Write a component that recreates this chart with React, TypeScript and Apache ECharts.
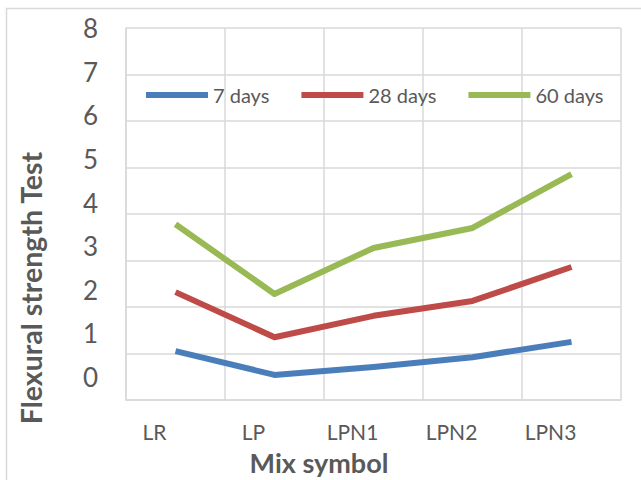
import React, { useEffect, useRef } from "react";
import * as echarts from "echarts";

const categories = ["LR", "LP", "LPN1", "LPN2", "LPN3"];
const yTicks = [0, 1, 2, 3, 4, 5, 6, 7, 8];
const days7 = [1.05, 0.54, 0.71, 0.92, 1.25];
const days28 = [2.32, 1.35, 1.81, 2.13, 2.86];
const days60 = [3.78, 2.28, 3.27, 3.7, 4.86];
const seriesNames = ["7 days", "28 days", "60 days"];
const colors = ["#4a7ebb", "#be4b48", "#98b954"];

export default function App() {
  const ref = useRef<HTMLDivElement>(null);
  useEffect(() => {
    if (!ref.current) return;
    const chart = echarts.init(ref.current, null, { renderer: "svg" });
    const font = "Lato, 'Open Sans', sans-serif";
    const grey = "#d9d9d9";
    const txt = "#595959";
    const mk = (name: string, data: number[], color: string) => ({
      name,
      type: "line",
      data,
      xAxisIndex: 0,
      yAxisIndex: 0,
      showSymbol: false,
      symbol: "none",
      lineStyle: { width: 6, color, cap: "butt", join: "round" },
      itemStyle: { color },
    });
    chart.setOption({
      animation: false,
      backgroundColor: "#fff",
      textStyle: { fontFamily: font },
      grid: [
        { left: 126, top: 28, width: 495, height: 372 },
        { left: 105, top: 28, width: 495, height: 349 },
      ],
      legend: {
        data: seriesNames,
        left: 146,
        top: 85,
        padding: 0,
        icon: "rect",
        itemWidth: 62,
        itemHeight: 6,
        itemGap: 32,
        textStyle: { color: txt, fontSize: 20, fontFamily: font },
      },
      xAxis: [
        {
          type: "category",
          gridIndex: 0,
          data: categories,
          boundaryGap: true,
          axisLine: { show: true, lineStyle: { color: grey, width: 1.5 } },
          axisTick: { show: false },
          axisLabel: { show: false },
          splitLine: { show: true, lineStyle: { color: grey, width: 1.5 } },
        },
        {
          type: "category",
          gridIndex: 1,
          data: categories,
          boundaryGap: true,
          axisLine: { show: false },
          axisTick: { show: false },
          axisLabel: { show: true, color: txt, fontSize: 21, fontFamily: font, margin: 44 },
          splitLine: { show: false },
        },
      ],
      yAxis: [
        {
          type: "value",
          gridIndex: 0,
          min: 0,
          max: 8,
          interval: 1,
          axisLine: { show: true, lineStyle: { color: grey, width: 1.5 } },
          axisTick: { show: false },
          axisLabel: { show: false },
          splitLine: { show: true, lineStyle: { color: grey, width: 1.5 } },
        },
        {
          type: "value",
          gridIndex: 1,
          min: yTicks[0],
          max: yTicks[yTicks.length - 1],
          interval: 1,
          axisLine: { show: false },
          axisTick: { show: false },
          axisLabel: { show: true, color: txt, fontSize: 26, fontFamily: font, margin: 7 },
          splitLine: { show: false },
        },
      ],
      graphic: [
        {
          type: "rect",
          shape: { x: 6.5, y: 8.5, width: 640, height: 480 },
          style: { fill: "none", stroke: grey, lineWidth: 1.5 },
          silent: true,
        },
        {
          type: "text",
          x: 31,
          y: 288,
          rotation: Math.PI / 2,
          style: {
            text: "Flexural strength Test",
            fontSize: 28.5,
            fontWeight: "bold",
            fontFamily: font,
            fill: txt,
            align: "center",
            verticalAlign: "middle",
          },
        },
        {
          type: "text",
          x: 319,
          y: 462,
          style: {
            text: "Mix symbol",
            fontSize: 27,
            fontWeight: "bold",
            fontFamily: font,
            fill: txt,
            align: "center",
            verticalAlign: "middle",
          },
        },
      ],
      series: [
        mk(seriesNames[0], days7, colors[0]),
        mk(seriesNames[1], days28, colors[1]),
        mk(seriesNames[2], days60, colors[2]),
      ],
    });
    return () => chart.dispose();
  }, []);
  return (
    <div
      ref={ref}
      style={{ position: "absolute", left: 0, top: 0, width: 641, height: 480 }}
    />
  );
}
